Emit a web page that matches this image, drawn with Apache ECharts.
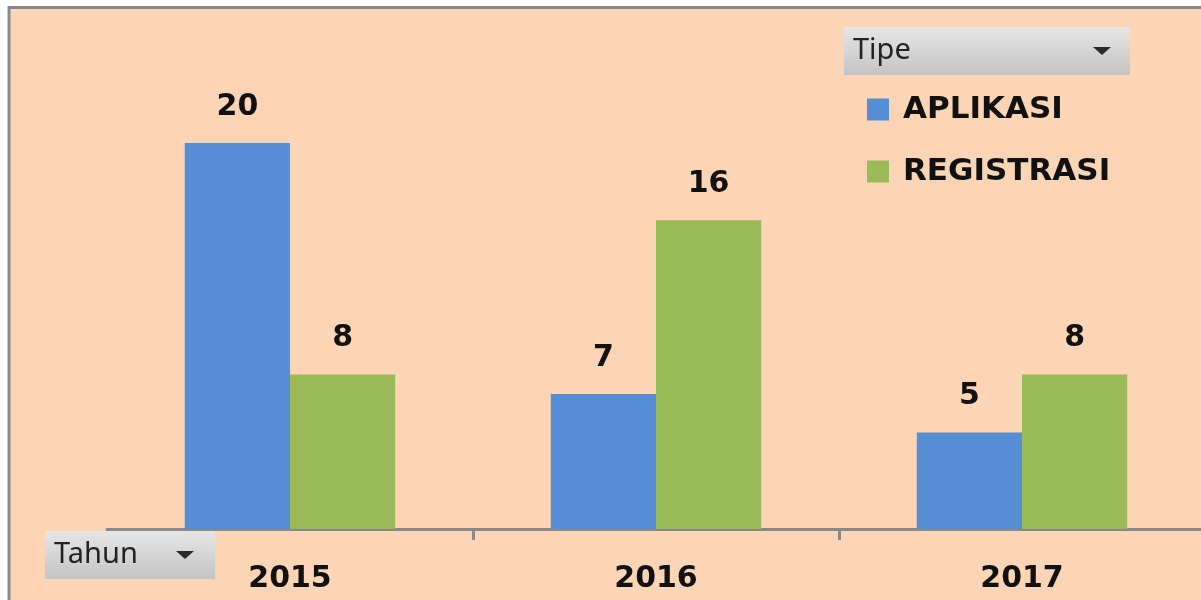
<!DOCTYPE html>
<html>
<head>
<meta charset="utf-8">
<script src="https://cdn.jsdelivr.net/npm/echarts@6/dist/echarts.min.js"></script>
<style>
  html, body { margin: 0; padding: 0; background: #ffffff; }
  #chart { width: 1201px; height: 600px; }
</style>
</head>
<body>
<div id="chart"></div>
<script>
// data
const years = ['2015', '2016', '2017'];
const aplikasi = [20, 7, 5];
const registrasi = [8, 16, 8];
const seriesNames = ['APLIKASI', 'REGISTRASI'];

const peach = '#fbd5b5';
const btnFill = {
    type: 'linear', x: 0, y: 0, x2: 0, y2: 1,
    colorStops: [{ offset: 0, color: '#e6e6e6' }, { offset: 1, color: '#c4c4c4' }]
};

// little excel style dropdown buttons, drawn over the axis
function dropButton(x, y, w, h, label, arrowX) {
    return [
        { type: 'rect', z: 100, shape: { x: x, y: y, width: w, height: h }, style: { fill: btnFill } },
        {
            type: 'text', z: 101, x: x + 9, y: y + h / 2,
            style: { text: label, font: '29px "Noto Sans"', fill: '#222', verticalAlign: 'middle' }
        },
        {
            type: 'polygon', z: 101,
            shape: { points: [[arrowX, y + 20], [arrowX + 18, y + 20], [arrowX + 9, y + 28]] },
            style: { fill: '#2a2a2a' }
        }
    ];
}

let chart = echarts.init(document.getElementById('chart'));
let option = {
    backgroundColor: '#ffffff',
    animation: false,
    graphic: [
        {
            type: 'rect', z: -10,
            shape: { x: 9, y: 7.5, width: 1260, height: 700 },
            style: { fill: peach, stroke: '#8a8a8a', lineWidth: 3 }
        }
    ].concat(dropButton(844, 27, 286, 48, 'Tipe', 1093), dropButton(45, 531, 170, 48, 'Tahun', 176)),
    legend: {
        data: seriesNames,
        orient: 'vertical',
        left: 862,
        top: 87,
        icon: 'rect',
        itemWidth: 22,
        itemHeight: 22,
        itemGap: 27,
        selectedMode: false,
        textStyle: {
            fontFamily: 'DejaVu Sans',
            fontWeight: 'bold',
            fontSize: 31,
            lineHeight: 35,
            color: '#111',
            padding: [0, 0, 0, 9]
        }
    },
    grid: {
        left: 107,
        width: 1098,
        top: 46.5,
        bottom: 71,
        outerBoundsMode: 'none'
    },
    xAxis: {
        type: 'category',
        data: years,
        axisLine: { lineStyle: { color: '#898989', width: 3 } },
        axisTick: { show: true, length: 11, lineStyle: { color: '#898989', width: 3 } },
        axisLabel: {
            margin: 35,
            fontFamily: 'DejaVu Sans',
            fontWeight: 'bold',
            fontSize: 30,
            color: '#111'
        }
    },
    yAxis: {
        type: 'value',
        min: 0,
        max: 25,
        show: false,
        splitLine: { show: false }
    },
    series: [
        {
            name: seriesNames[0],
            type: 'bar',
            data: aplikasi,
            itemStyle: { color: '#558ed5' },
            barGap: 0,
            barCategoryGap: '42.5%',
            label: {
                show: true, position: 'top', distance: 21,
                fontFamily: 'DejaVu Sans', fontWeight: 'bold', fontSize: 30, color: '#111'
            }
        },
        {
            name: seriesNames[1],
            type: 'bar',
            data: registrasi,
            itemStyle: { color: '#9bbb59' },
            barGap: 0,
            barCategoryGap: '42.5%',
            label: {
                show: true, position: 'top', distance: 21,
                fontFamily: 'DejaVu Sans', fontWeight: 'bold', fontSize: 30, color: '#111'
            }
        }
    ]
};
chart.setOption(option);
</script>
</body>
</html>
